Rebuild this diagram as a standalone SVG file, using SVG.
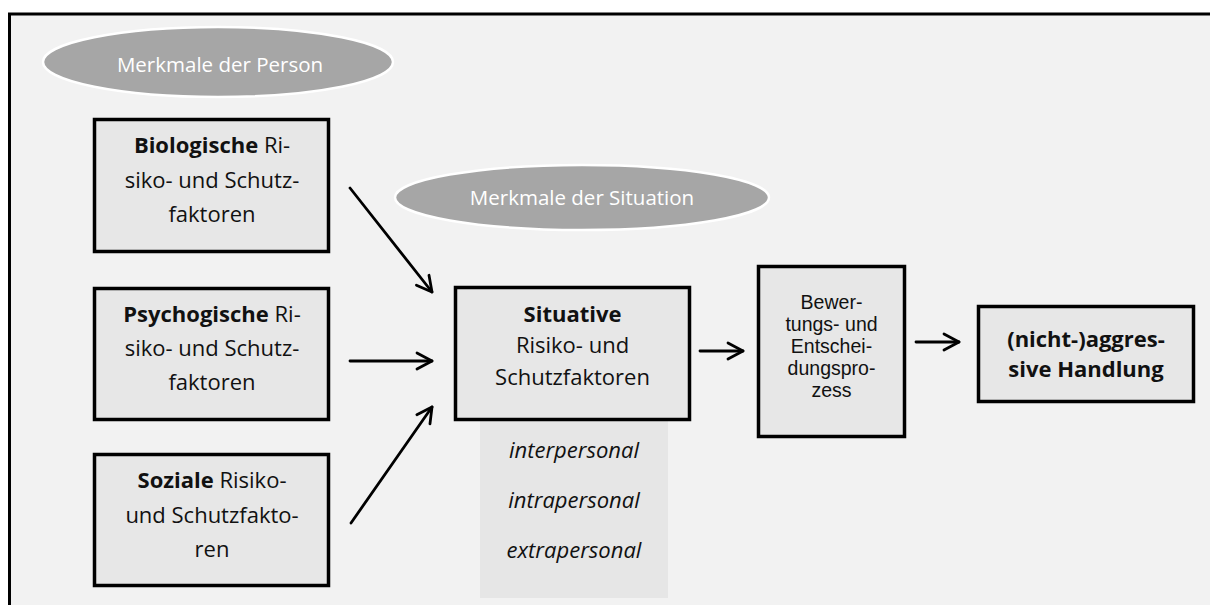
<svg xmlns="http://www.w3.org/2000/svg" width="1210" height="605" viewBox="0 0 1210 605">
<style>
.box{fill:#e7e7e7;stroke:#000;stroke-width:3.5}
.ell{fill:#a6a6a6;stroke:#fff;stroke-width:2.5}
.t{font-family:"Open Sans","Noto Sans","Liberation Sans",sans-serif;fill:#111;text-anchor:middle;font-size:22px}
.b{font-weight:bold}
.it{font-style:italic}
.et{font-family:"Open Sans","Noto Sans","Liberation Sans",sans-serif;fill:#fff;text-anchor:middle;font-size:20.5px}
.sm{font-family:"Liberation Sans",Arial,sans-serif;font-size:19.5px}
.conn{stroke:#000;stroke-width:2.8;fill:none;stroke-linecap:round}
</style>
<defs>
<marker id="ah" viewBox="-18 -10 20 20" refX="0" refY="0" markerWidth="20" markerHeight="20" markerUnits="userSpaceOnUse" orient="auto">
<path d="M-15,-8 L0,0 L-15,8" fill="none" stroke="#000" stroke-width="2.8" stroke-linecap="round" stroke-linejoin="round"/>
</marker>
</defs>
<rect x="0" y="0" width="1210" height="605" fill="#fff"/>
<rect x="11" y="15" width="1199" height="590" fill="#f2f2f2"/>
<path d="M9.5,605 V14 H1210" fill="none" stroke="#000" stroke-width="3"/>

<g id="ellipse-person">
<ellipse class="ell" cx="218" cy="62" rx="175" ry="35"/>
<text class="et" x="220" y="72">Merkmale der Person</text>
</g>
<g id="ellipse-situation">
<ellipse class="ell" cx="582" cy="197.5" rx="187" ry="32.5"/>
<text class="et" x="582" y="205">Merkmale der Situation</text>
</g>

<g id="node-bio">
<rect class="box" x="94.5" y="119.5" width="234" height="132"/>
<text class="t" x="212" y="153"><tspan class="b">Biologische</tspan> Ri-</text>
<text class="t" x="212" y="188">siko- und Schutz-</text>
<text class="t" x="212" y="222">faktoren</text>
</g>
<g id="node-psycho">
<rect class="box" x="94.5" y="288.5" width="234" height="131"/>
<text class="t" x="212" y="322"><tspan class="b">Psychogische</tspan> Ri-</text>
<text class="t" x="212" y="356">siko- und Schutz-</text>
<text class="t" x="212" y="390">faktoren</text>
</g>
<g id="node-sozial">
<rect class="box" x="94.5" y="454.5" width="234" height="131"/>
<text class="t" x="212" y="488"><tspan class="b">Soziale</tspan> Risiko-</text>
<text class="t" x="212" y="523">und Schutzfakto-</text>
<text class="t" x="212" y="557">ren</text>
</g>
<g id="node-situativ">
<rect x="480" y="420" width="188" height="178" fill="#e6e6e6"/>
<rect class="box" x="455.5" y="287.5" width="234" height="132"/>
<text class="t b" x="572.5" y="322">Situative</text>
<text class="t" x="572.5" y="353">Risiko- und</text>
<text class="t" x="572.5" y="385">Schutzfaktoren</text>
<text class="t it" x="574" y="458">interpersonal</text>
<text class="t it" x="574" y="508">intrapersonal</text>
<text class="t it" x="574" y="558">extrapersonal</text>
</g>
<g id="node-bewertung">
<rect class="box" x="758.5" y="266.5" width="146" height="170"/>
<text class="t sm" x="831.5" y="309">Bewer-</text>
<text class="t sm" x="831.5" y="331">tungs- und</text>
<text class="t sm" x="831.5" y="353">Entschei-</text>
<text class="t sm" x="831.5" y="375">dungspro-</text>
<text class="t sm" x="831.5" y="397">zess</text>
</g>
<g id="node-handlung">
<rect class="box" x="978.5" y="306.5" width="215" height="95"/>
<text class="t b" x="1086" y="347">(nicht-)aggres-</text>
<text class="t b" x="1086" y="377">sive Handlung</text>
</g>

<g id="connectors">
<line class="conn" x1="350" y1="188" x2="432" y2="292" marker-end="url(#ah)"/>
<line class="conn" x1="350" y1="361" x2="432" y2="361" marker-end="url(#ah)"/>
<line class="conn" x1="351" y1="523" x2="432" y2="407" marker-end="url(#ah)"/>
<line class="conn" x1="700" y1="351" x2="743" y2="351" marker-end="url(#ah)"/>
<line class="conn" x1="916" y1="342" x2="959" y2="342" marker-end="url(#ah)"/>
</g>
</svg>
